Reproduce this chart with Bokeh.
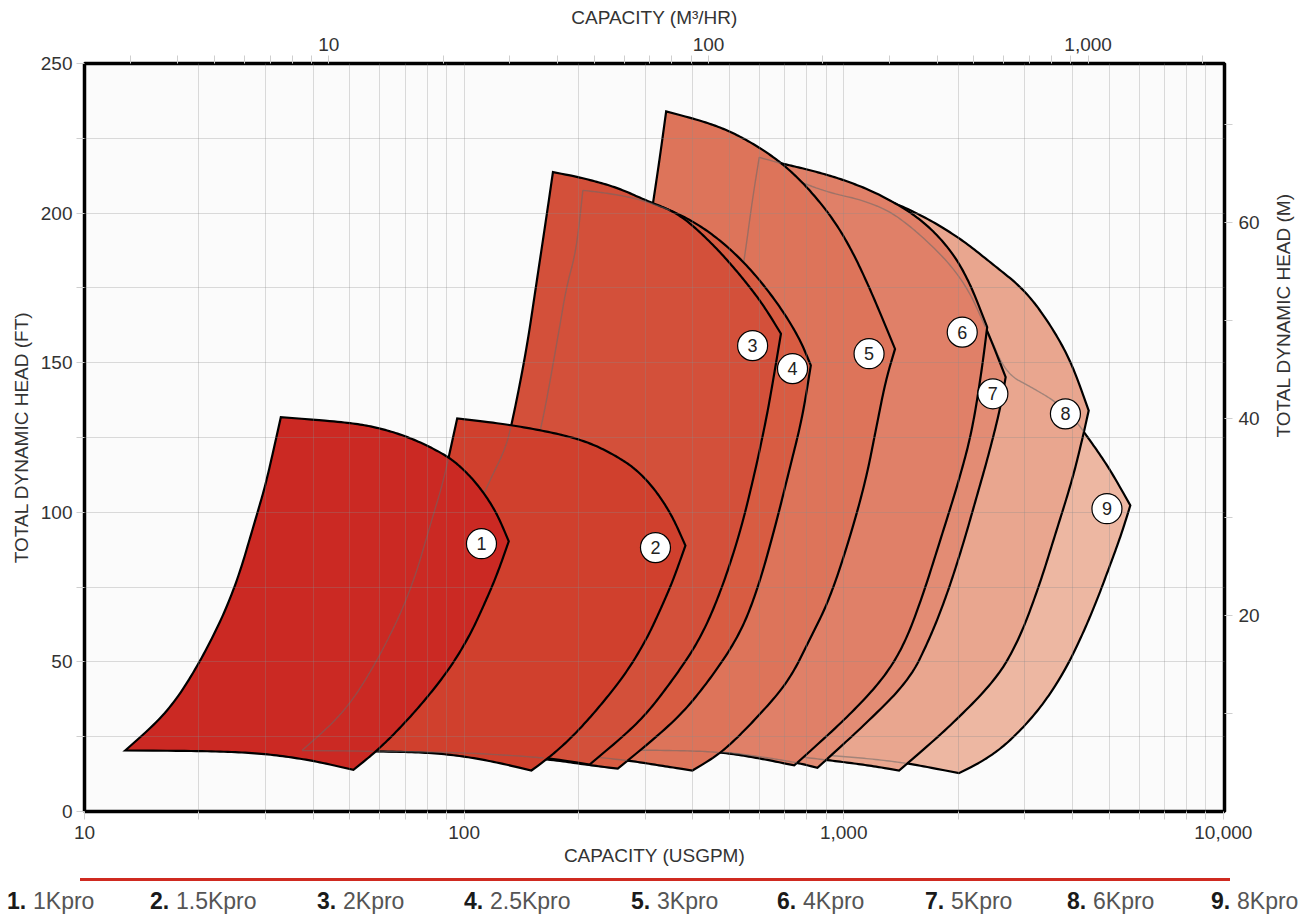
import math
import numpy as np
from bokeh.plotting import figure
from bokeh.models import (Range1d, LogScale, LogAxis, LinearAxis, FixedTicker,
                          NumeralTickFormatter, Div)
from bokeh.layouts import column
from bokeh.embed import file_html
from bokeh.resources import INLINE
from bokeh.core.properties import value

# ---------------- data (capacity in USGPM, head in ft) ----------------
pumps = ["1Kpro", "1.5Kpro", "2Kpro", "2.5Kpro", "3Kpro", "4Kpro", "5Kpro", "6Kpro", "8Kpro"]

k1_q = [12.8, 16.5, 20.2, 24.7, 28.5, 30.2, 32.9, 49.1, 60.0, 73.4, 89.9, 99.4, 110.0, 121.7, 131.1,
        121.9, 112.7, 103.5, 91.7, 78.8, 66.9, 58.2, 51.1, 40.1, 30.2, 21.9]
k1_h = [20.4, 32.8, 49.9, 72.8, 99.5, 110.6, 131.8, 130.1, 128.2, 124.6, 119.0, 114.5, 108.4, 100.0, 90.3,
        78.9, 68.9, 58.8, 47.8, 37.1, 27.1, 19.7, 13.9, 17.0, 19.3, 20.2]

k2_q = [37.4, 48.2, 58.9, 72.1, 83.1, 88.3, 95.9, 131.9, 178.5, 218.4, 261.4, 289.7, 321.1, 353.9, 382.8,
        355.9, 329.0, 302.2, 267.9, 230.2, 195.5, 170.1, 150.4, 116.8, 88.4, 63.8]
k2_h = [20.4, 32.8, 49.9, 72.8, 99.5, 110.6, 131.4, 129.3, 126.2, 122.9, 117.6, 113.3, 107.0, 98.6, 88.9,
        77.5, 67.5, 57.5, 46.5, 35.8, 25.7, 18.7, 13.7, 17.0, 19.4, 20.1]

k3_q = [47.1, 57.2, 69.9, 86.3, 103.5, 116.8, 127.9, 133.7, 145.9, 155.0, 164.7, 171.4,
        201.5, 251.6, 301.7, 369.2, 451.6, 530.8, 611.3, 683.3,
        649.3, 624.0, 581.0, 530.8, 470.4, 416.7, 353.9, 289.7, 214.1, 165.0, 99.2, 60.0]
k3_h = [20.4, 32.1, 48.8, 71.5, 95.6, 110.6, 120.7, 129.6, 154.1, 176.4, 198.6, 213.7,
        212.0, 208.7, 204.2, 199.8, 189.7, 179.7, 169.7, 159.7,
        142.9, 130.7, 112.3, 92.2, 72.2, 57.2, 43.8, 29.7, 15.7, 18.0, 19.7, 20.2]

k4_q = [56.5, 68.6, 83.7, 103.5, 124.1, 140.1, 153.5, 161.4, 178.5, 185.9, 197.5, 205.5,
        227.4, 264.6, 301.7, 369.2, 451.6, 552.7, 662.9, 763.0, 819.0,
        778.6, 718.6, 656.0, 592.0, 530.8, 442.7, 361.8, 254.0, 214.1, 168.1, 103.5]
k4_h = [20.4, 32.1, 48.8, 71.5, 95.6, 110.6, 120.7, 130.7, 161.9, 175.2, 187.5, 207.6,
        207.0, 205.7, 203.9, 199.8, 193.1, 183.1, 170.8, 158.5, 149.1,
        131.8, 114.0, 93.9, 73.9, 58.8, 43.8, 30.4, 14.3, 15.5, 17.4, 19.6]

k5_q = [86.3, 103.5, 127.9, 163.0, 199.1, 233.0, 263.0, 289.7, 311.5, 327.0, 340.6,
        434.0, 508.8, 599.0, 690.0, 794.9, 932.0, 1052.0, 1188.0, 1365.0,
        1290.0, 1214.0, 1143.0, 1033.0, 915.0, 811.0, 718.6, 599.0, 478.8, 399.3,
        327.0, 272.7, 214.1, 158.1]
k5_h = [20.4, 28.7, 43.8, 67.2, 93.9, 120.7, 147.4, 174.1, 199.9, 217.6, 234.0,
        230.4, 227.0, 222.0, 216.5, 209.2, 198.6, 187.5, 173.1, 154.6,
        144.1, 127.3, 110.6, 90.6, 70.5, 57.2, 43.8, 32.1, 19.7, 13.7,
        15.4, 17.0, 18.4, 19.7]

k6_q = [151.6, 181.8, 224.7, 286.2, 349.6, 409.2, 461.8, 508.8, 547.0, 574.2, 599.0,
        690.0, 827.6, 1012.7, 1239.0, 1579.0, 1893.0, 2137.0, 2387.0,
        2316.0, 2180.0, 2011.0, 1818.0, 1610.0, 1441.0, 1262.0, 1002.0, 740.7,
        611.3, 479.7, 369.2, 227.5]
k6_h = [20.4, 25.4, 37.1, 57.2, 80.5, 107.3, 134.0, 160.8, 184.2, 204.3, 218.6,
        216.5, 214.2, 210.9, 206.4, 198.6, 188.6, 177.5, 161.9,
        148.5, 127.3, 110.6, 92.8, 71.6, 55.5, 43.8, 30.4, 15.4,
        17.6, 19.8, 20.4, 20.6]

k7_q = [163.0, 192.0, 233.0, 293.3, 355.9, 414.2, 464.7, 511.9, 547.0, 574.2, 599.0,
        827.6, 1239.0, 1579.0, 2052.0, 2384.0, 2670.0,
        2589.0, 2412.0, 2225.0, 2052.0, 1859.0, 1677.0, 1486.0, 1143.0, 852.6,
        749.6, 599.0, 470.4, 369.2, 227.5]
k7_h = [20.4, 25.4, 37.1, 57.2, 80.5, 107.3, 134.0, 160.8, 183.5, 202.9, 217.6,
        208.1, 203.1, 193.5, 178.6, 161.1, 145.2,
        135.1, 119.5, 103.9, 88.3, 71.5, 57.2, 43.8, 29.3, 14.6,
        16.4, 18.4, 20.1, 20.6, 20.6]

k8_q = [178.5, 241.6, 307.8, 369.2, 429.5, 481.8, 530.8, 570.7, 599.0, 617.6,
        688.7, 827.6, 1012.7, 1239.0, 1579.0, 2011.0, 2460.0, 3012.0, 3538.0, 3995.0, 4419.0,
        4243.0, 3995.0, 3612.0, 3265.0, 2892.0, 2512.0, 1856.0, 1399.0,
        1166.0, 932.0, 718.6, 530.8, 369.2]
k8_h = [20.4, 37.1, 57.2, 80.5, 107.3, 134.0, 160.8, 183.5, 202.9, 216.9,
        215.6, 213.2, 209.9, 205.5, 199.8, 191.9, 183.1, 174.1, 161.9, 149.6, 134.0,
        124.0, 110.6, 92.8, 75.0, 57.2, 43.8, 27.1, 13.7,
        15.4, 17.0, 18.7, 20.1, 20.4]

k9_q = [201.5, 264.6, 331.1, 397.0, 459.0, 515.0, 563.9, 606.4, 625.0, 636.6,
        826.0, 1239.0, 1579.0, 2052.0, 2412.0, 2673.0, 3129.0, 3618.0, 4061.0, 4331.0, 4989.0, 5688.0,
        5395.0, 5017.0, 4609.0, 4209.0, 3776.0, 3265.0, 2722.0, 2340.0, 2011.0,
        1515.0, 1166.0, 861.6, 599.0]
k9_h = [20.4, 37.1, 57.2, 80.5, 107.3, 134.0, 160.8, 183.5, 199.2, 214.2,
        206.9, 201.9, 192.8, 177.1, 159.8, 146.4, 141.7, 137.0, 131.0, 126.2, 115.1, 102.3,
        92.9, 81.9, 69.5, 57.8, 45.8, 33.8, 23.1, 17.0, 12.8,
        15.9, 17.7, 19.0, 20.1]

# index of the four corners of each outline: low-left, top-left, right tip, bottom point
corners = [[0, 6, 14, 22], [0, 6, 14, 22], [0, 11, 19, 28], [0, 11, 20, 28], [0, 10, 19, 29],
           [0, 10, 18, 27], [0, 10, 16, 25], [0, 9, 20, 28], [0, 9, 21, 30]]

# number badge positions (USGPM, ft)
badge_q = [111.1, 319.2, 575.4, 733.0, 1166.0, 2052.0, 2471.0, 3837.0, 4936.0]
badge_h = [89.5, 88.2, 155.7, 148.0, 153.0, 160.2, 139.6, 132.9, 101.2]

# axis tick values
x_major = [10, 100, 1000, 10000]
y_major = [0, 50, 100, 150, 200, 250]
y_minor = [25, 75, 125, 175, 225]
m3_major = [10, 100, 1000]
m_major = [20, 40, 60]
m_minor = [10, 30, 50, 70]

# ---------------- styles ----------------
colors = ["#CB2923", "#D0402D", "#D3503A", "#D85C42", "#DD745A",
          "#E08068", "#E38C74", "#E9A68F", "#EDB7A2"]
FONT = "Liberation Sans"
TXT = "#333333"
TICK = "#cfcfcf"
GPM_PER_M3H = 4.402868
M_PER_FT = 0.3048

shapes_q = [k1_q, k2_q, k3_q, k4_q, k5_q, k6_q, k7_q, k8_q, k9_q]
shapes_h = [k1_h, k2_h, k3_h, k4_h, k5_h, k6_h, k7_h, k8_h, k9_h]

x_minor = [m * 10 ** e for e in range(1, 4) for m in range(2, 10)]
m3_minor = list(range(3, 10)) + [m * 10 for m in range(2, 10)] + [m * 100 for m in range(2, 10)] + [2000]

p = figure(width=1307, height=872, x_axis_type="log",
           x_range=Range1d(10, 10070), y_range=Range1d(0, 250),
           output_backend="svg", toolbar_location=None,
           min_border_left=84, min_border_right=81, min_border_top=63, min_border_bottom=61,
           background_fill_color="#fbfbfb", border_fill_color="white",
           outline_line_color="black", outline_line_width=3.5)

p.extra_x_ranges = {"m3": Range1d(10 / GPM_PER_M3H, 10070 / GPM_PER_M3H)}
p.extra_x_scales = {"m3": LogScale()}
p.extra_y_ranges = {"m": Range1d(0, 250 * M_PER_FT)}


def style_axis(ax):
    ax.axis_line_color = None
    ax.major_tick_line_color = TICK
    ax.minor_tick_line_color = TICK
    ax.major_tick_in = 0
    ax.major_tick_out = 8
    ax.minor_tick_in = 0
    ax.minor_tick_out = 8
    ax.major_label_text_font = FONT
    ax.major_label_text_font_size = "19px"
    ax.major_label_text_color = TXT
    ax.axis_label_text_font = FONT
    ax.axis_label_text_font_size = "19px"
    ax.axis_label_text_font_style = "normal"
    ax.axis_label_text_color = TXT


xa = p.xaxis[0]
xa.ticker = FixedTicker(ticks=x_major, minor_ticks=x_minor)
xa.formatter = NumeralTickFormatter(format="0,0")
xa.axis_label = "CAPACITY (USGPM)"
style_axis(xa)
xa.major_label_standoff = 6
xa.axis_label_standoff = 3

ya = p.yaxis[0]
ya.ticker = FixedTicker(ticks=y_major, minor_ticks=y_minor)
ya.axis_label = "TOTAL DYNAMIC HEAD (FT)"
style_axis(ya)
ya.major_label_standoff = 4
ya.axis_label_standoff = 6

top = LogAxis(x_range_name="m3", axis_label="CAPACITY (M³/HR)",
              ticker=FixedTicker(ticks=m3_major, minor_ticks=m3_minor),
              formatter=NumeralTickFormatter(format="0,0"))
style_axis(top)
top.major_label_standoff = 5
top.axis_label_standoff = 7
p.add_layout(top, "above")

right = LinearAxis(y_range_name="m", axis_label="TOTAL DYNAMIC HEAD (M)",
                   ticker=FixedTicker(ticks=m_major, minor_ticks=m_minor))
style_axis(right)
right.major_label_standoff = 6
right.axis_label_standoff = 21
if "axis_label_orientation" in right.properties():
    right.axis_label_orientation = math.pi / 2   # read bottom-to-top like the reference
p.add_layout(right, "right")

# grid drawn over the fills, semi-transparent
p.xgrid[0].ticker = FixedTicker(ticks=[100, 1000], minor_ticks=x_minor)
p.ygrid[0].ticker = FixedTicker(ticks=y_major[1:-1], minor_ticks=y_minor)
for g in (p.xgrid[0], p.ygrid[0]):
    g.grid_line_color = "#8a8a8a"
    g.grid_line_alpha = 0.3
    g.minor_grid_line_color = "#8a8a8a"
    g.minor_grid_line_alpha = 0.3
    g.level = "annotation"

# ---------------- outline smoothing (rendering only) ----------------
SX, SY = 380.3, 2.992   # pixel-like aspect used only for the curve shape


def chaikin(pts, it=4):
    pts = np.asarray(pts, float)
    for _ in range(it):
        if len(pts) < 3:
            break
        q = 0.75 * pts[:-1] + 0.25 * pts[1:]
        r = 0.25 * pts[:-1] + 0.75 * pts[1:]
        inner = np.empty((2 * (len(pts) - 1), 2))
        inner[0::2] = q
        inner[1::2] = r
        pts = np.vstack([pts[:1], inner[1:-1], pts[-1:]])
    return pts


def smooth_outline(q, h, cidx):
    pts = np.column_stack([np.log10(np.asarray(q, float)) * SX, np.asarray(h, float) * SY])
    segs = []
    bounds = list(cidx) + [len(pts)]
    for a, b in zip(bounds[:-1], bounds[1:]):
        seg = pts[[i % len(pts) for i in range(a, b + 1)]]
        segs.append(chaikin(seg)[:-1])
    allp = np.vstack(segs)
    return allp[:, 0], allp[:, 1]


def inside(px, py, vx, vy):
    res = np.zeros(px.shape, bool)
    j = len(vx) - 1
    for i in range(len(vx)):
        xi, yi, xj, yj = vx[i], vy[i], vx[j], vy[j]
        cond = (yi > py) != (yj > py)
        dy = (yj - yi) if yj != yi else 1e-12
        xint = (xj - xi) * (py - yi) / dy + xi
        res ^= cond & (px < xint)
        j = i
    return res


n = len(shapes_q)
outl = [smooth_outline(shapes_q[k], shapes_h[k], corners[k]) for k in range(n)]

for k in range(n - 1, -1, -1):
    X, Y = outl[k]
    p.patch(10 ** (X / SX), Y / SY, fill_color=colors[k], line_color="black",
            line_width=2.2, line_join="miter")
    if k + 1 < n:
        gx, gy = outl[k + 1]
        gx = np.append(gx, gx[0])
        gy = np.append(gy, gy[0])
        m = inside(gx, gy, X, Y)
        p.line(np.where(m, 10 ** (gx / SX), np.nan), np.where(m, gy / SY, np.nan),
               line_color="#686868", line_alpha=0.55, line_width=1.4)

p.scatter(badge_q, badge_h, size=30, marker="circle", fill_color="white",
          line_color="black", line_width=1.2, level="overlay")
p.text(badge_q, badge_h, text=[str(i + 1) for i in range(n)], text_align="center",
       text_baseline="middle", text_font=value(FONT), text_font_size="18px",
       text_color="#222222", level="overlay")

# ---------------- legend row below the chart ----------------
leg_x = [7, 150, 317, 464, 631, 777, 925, 1067, 1211]
items = []
for i in range(n):
    items.append(
        f'<span style="position:absolute;left:{leg_x[i]}px;top:18px;line-height:23px;'
        f'font-size:23px;white-space:nowrap;">'
        f'<b style="color:#1a1a1a;">{i + 1}.</b>'
        f'<span style="position:absolute;left:26px;top:0;color:#555555;">{pumps[i]}</span></span>')
html = (f'<div style="position:relative;width:1307px;height:44px;font-family:\'{FONT}\';">'
        '<div style="position:absolute;left:80px;top:6px;width:1150px;height:3px;'
        'background:#cf2a20;"></div>' + "".join(items) + '</div>')
legend_div = Div(text=html, width=1307, height=44, margin=0)

layout = column(p, legend_div, spacing=0)
open("out.html", "w").write(file_html(layout, INLINE))
